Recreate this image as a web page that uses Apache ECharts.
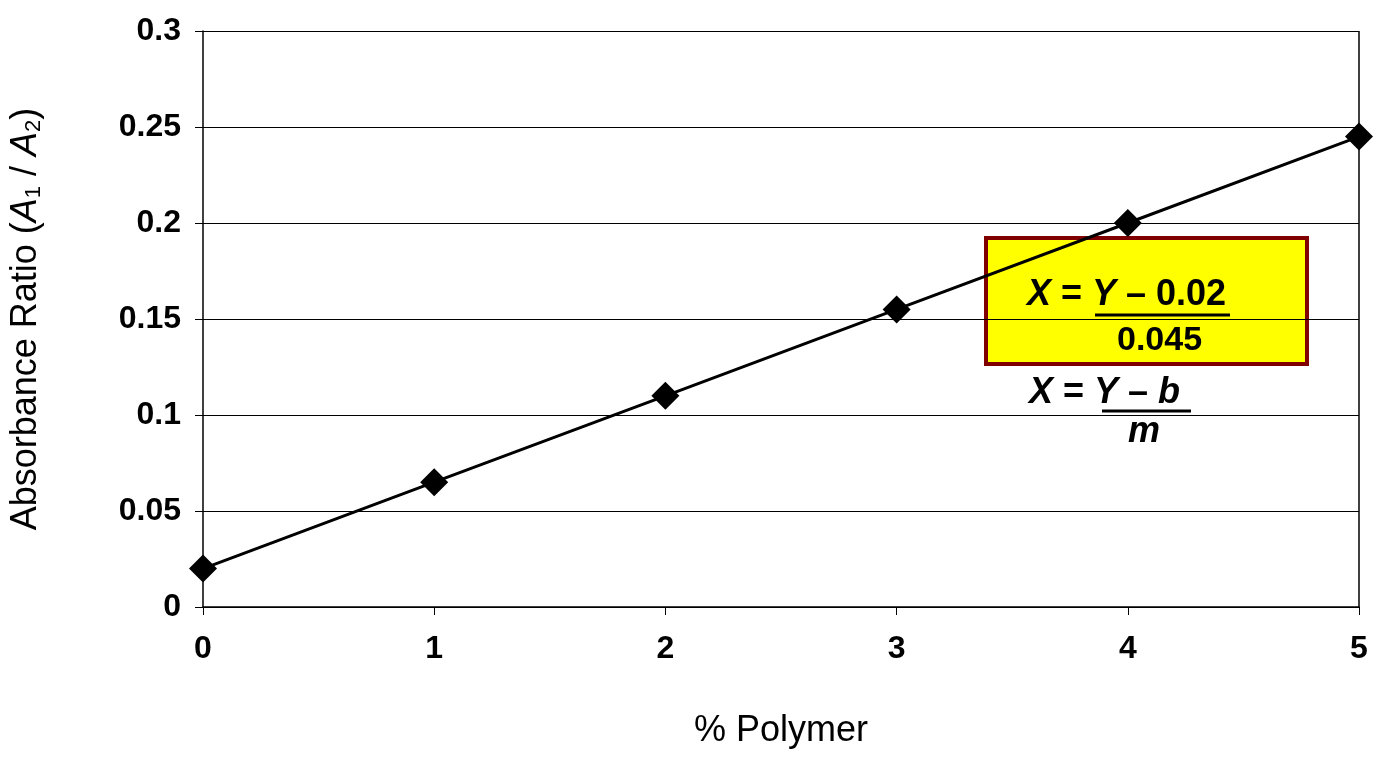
<!DOCTYPE html>
<html><head><meta charset="utf-8">
<script src="https://cdn.jsdelivr.net/npm/echarts@6/dist/echarts.min.js"></script>
<style>html,body{margin:0;padding:0;background:#fff}#c{width:1388px;height:760px}</style>
</head><body><div id="c"></div>
<script>
const xValues = [0, 1, 2, 3, 4, 5];
const yValues = [0.02, 0.065, 0.11, 0.155, 0.2, 0.245];
const xTitle = '% Polymer';
const F = '"Liberation Sans", Arial, sans-serif';
const chart = echarts.init(document.getElementById('c'));
chart.setOption({
  animation:false,
  grid:{left:201, right:29, top:31, bottom:153},
  xAxis:{type:'value', min:0, max:5, interval:1, name:xTitle, nameLocation:'middle', nameGap:106,
    nameTextStyle:{fontFamily:F, fontSize:36, color:'#000'},
    axisLine:{show:true, lineStyle:{color:'#000', width:1.5}}, axisTick:{show:true, length:8, lineStyle:{color:'#000'}},
    axisLabel:{fontFamily:F, fontSize:32, fontWeight:'bold', color:'#000', margin:26}, splitLine:{show:false}},
  yAxis:{type:'value', min:0, max:0.3, interval:0.05, name:'{n|Absorbance Ratio (}{i|A}{s|1}{n| / }{i|A}{s|2}{n|)}',
    nameLocation:'middle', nameGap:158,
    nameTextStyle:{rich:{n:{fontFamily:F, fontSize:36, color:'#000'}, i:{fontFamily:F, fontSize:36, fontStyle:'italic', color:'#000'}, s:{fontFamily:F, fontSize:22, color:'#000', padding:[16,0,0,0]}}},
    axisLine:{show:true, lineStyle:{color:'#000', width:1.5}}, axisTick:{show:true, length:8, lineStyle:{color:'#000'}},
    axisLabel:{fontFamily:F, fontSize:32, fontWeight:'bold', color:'#000', margin:22,
      formatter:v=>String(+v.toFixed(2))},
    splitLine:{show:true, lineStyle:{color:'#000', width:1}}},
  series:[
    {type:'line', data:xValues.map((x,i)=>[x,yValues[i]]), symbol:'diamond', symbolSize:28,
     lineStyle:{color:'#000', width:3}, itemStyle:{color:'#000'}, z:10},
    {type:'line', data:[[5,0],[5,0.3]], symbol:'none', lineStyle:{color:'#000', width:1.5}, silent:true}
  ],
  graphic:[
    {type:'rect', shape:{x:986, y:238, width:321, height:126}, z:-1, style:{fill:'#ffff00', stroke:'#800000', lineWidth:4}},
    {type:'text', x:1027, y:277, z:50, style:{rich:{i:{font:'italic bold 36px '+F}, n:{font:'bold 36px '+F}}, text:'{i|X}{n| = }{i|Y}{n| – 0.02}', fill:'#000'}},
    {type:'line', shape:{x1:1095,y1:315,x2:1230,y2:315}, z:50, style:{stroke:'#000', lineWidth:3}},
    {type:'text', x:1117, y:324, z:50, style:{text:'0.045', font:'bold 34px '+F, fill:'#000'}},
    {type:'text', x:1029, y:375, z:50, style:{rich:{i:{font:'italic bold 36px '+F}, n:{font:'bold 36px '+F}}, text:'{i|X}{n| = }{i|Y}{n| – }{i|b}', fill:'#000'}},
    {type:'line', shape:{x1:1102,y1:411,x2:1191,y2:411}, z:50, style:{stroke:'#000', lineWidth:3}},
    {type:'text', x:1128, y:414, z:50, style:{text:'m', font:'italic bold 36px '+F, fill:'#000'}}
  ]
});
</script></body></html>
